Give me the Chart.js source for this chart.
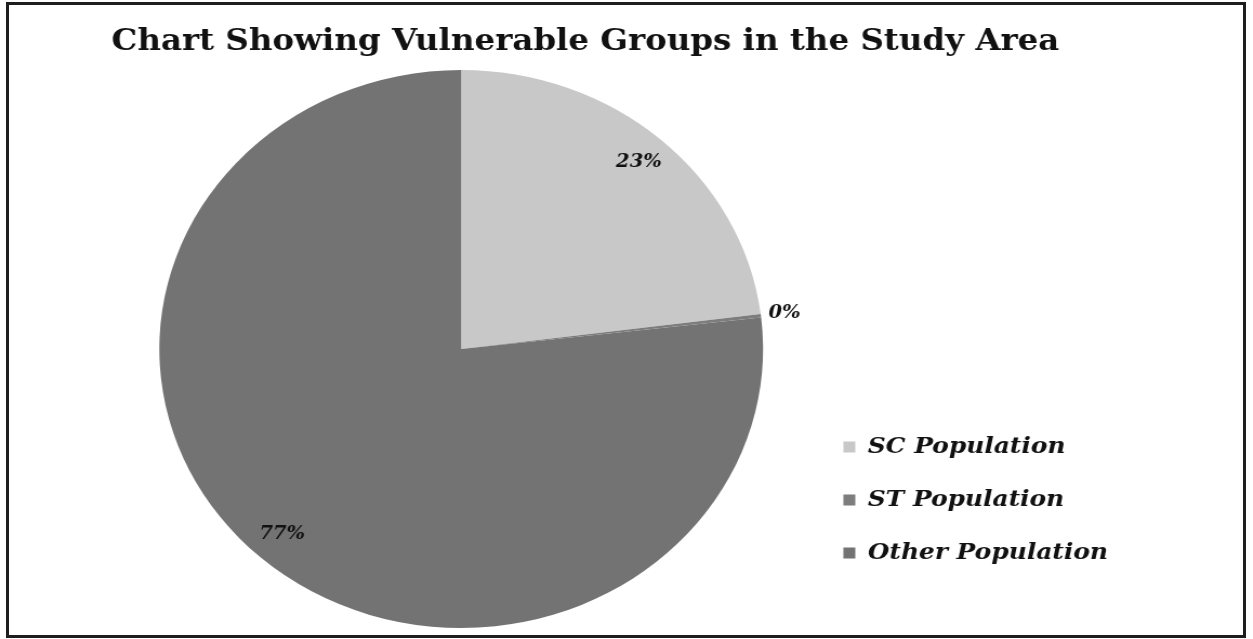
<!DOCTYPE html>
<html>
<head>
<meta charset="utf-8">
<script src="https://cdn.jsdelivr.net/npm/chart.js@4.4.1/dist/chart.umd.min.js"></script>
<style>
  html, body { margin: 0; padding: 0; background: #fff; overflow: hidden; }
  #wrap { position: relative; width: 1253px; height: 639px; }
  #chart { position: absolute; left: 0; top: 0; transform-origin: 0 0; transform: scaleX(1.082); }
  #frame { position: absolute; left: 6px; top: 2px; width: 1234px; height: 630px; border: 3px solid #1e1e1e; pointer-events: none; }
</style>
</head>
<body>
<div id="wrap">
  <canvas id="chart" width="1158" height="639"></canvas>
  <div id="frame"></div>
</div>
<script>
const groups = ['SC Population', 'ST Population', 'Other Population'];
const shares = [23, 0.2, 76.8];

const sliceColors = ['#c8c8c8', '#7d7d7d', '#737373'];
const serif = '"DejaVu Serif", "Liberation Serif", serif';

// percentage labels, the tiny slice gets its label outside the pie
const pctLabels = {
  id: 'pctLabels',
  afterDatasetsDraw(chart) {
    const ctx = chart.ctx;
    const meta = chart.getDatasetMeta(0);
    const total = shares.reduce((a, b) => a + b, 0);
    ctx.save();
    ctx.font = 'italic bold 18px ' + serif;
    ctx.fillStyle = '#111';
    ctx.textAlign = 'center';
    ctx.textBaseline = 'middle';
    meta.data.forEach((arc, i) => {
      const p = arc.getProps(['x', 'y', 'startAngle', 'endAngle', 'outerRadius'], true);
      const mid = (p.startAngle + p.endAngle) / 2;
      const pct = shares[i] / total * 100;
      const r = pct < 2 ? p.outerRadius + 22 : p.outerRadius * 0.89;
      ctx.fillText(Math.round(pct) + '%', p.x + Math.cos(mid) * r, p.y + Math.sin(mid) * r);
    });
    ctx.restore();
  }
};

new Chart(document.getElementById('chart'), {
  type: 'pie',
  data: {
    labels: groups,
    datasets: [{
      data: shares,
      backgroundColor: sliceColors,
      borderWidth: 0
    }]
  },
  options: {
    responsive: false,
    animation: false,
    layout: { padding: { left: 103, right: 124, top: 0, bottom: 11 } },
    plugins: {
      title: {
        display: true,
        align: 'start',
        text: 'Chart Showing Vulnerable Groups in the Study Area',
        color: '#111',
        font: { family: serif, size: 30, weight: 'bold' },
        padding: { top: 24, bottom: 10 }
      },
      legend: {
        position: 'right',
        align: 'start',
        fullSize: false,
        maxWidth: 306,
        title: { display: true, text: '', font: { size: 12 }, padding: { top: 0, bottom: 321 } },
        labels: {
          color: '#111',
          font: { family: serif, size: 23, weight: 'bold', style: 'italic' },
          boxWidth: 11,
          boxHeight: 11,
          padding: 30
        }
      },
      tooltip: { enabled: false }
    }
  },
  plugins: [pctLabels]
});
</script>
</body>
</html>
